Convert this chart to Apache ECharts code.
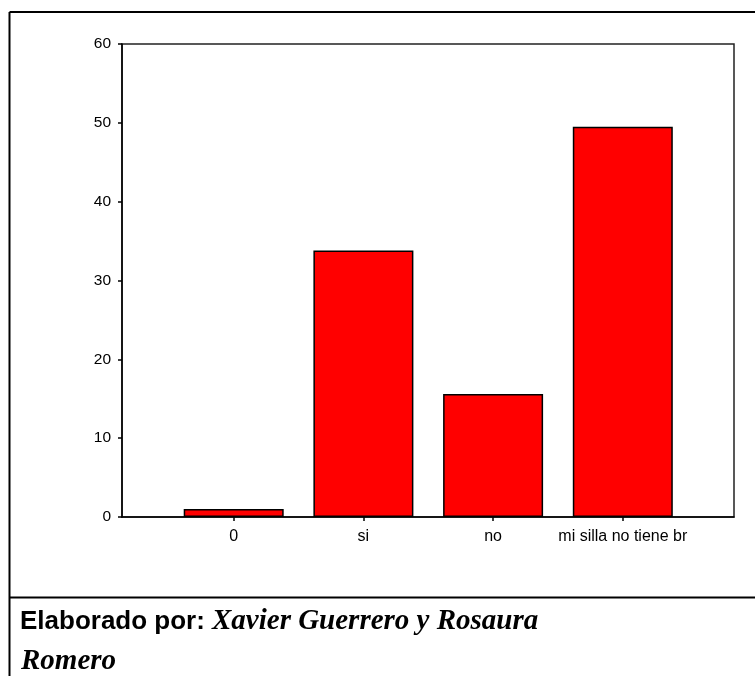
<!DOCTYPE html>
<html><head><meta charset="utf-8">
<script src="https://cdn.jsdelivr.net/npm/echarts@6/dist/echarts.min.js"></script>
<style>html,body{margin:0;padding:0;background:#fff}#c{width:755px;height:676px}</style>
</head><body><div id="c"></div>
<script>
var categories = ['0', 'si', 'no', 'mi silla no tiene br'];
var values = [1.0, 33.8, 15.6, 49.5];
var yTicks = [0, 10, 20, 30, 40, 50, 60];

var chart = echarts.init(document.getElementById('c'), null, {renderer: 'canvas'});
var FONT = 'Liberation Sans, Arial, sans-serif';
chart.setOption({
  animation: false,
  backgroundColor: '#fff',
  grid: [
    {left: 122, top: 44, width: 612, height: 473, show: true, borderColor: '#222', borderWidth: 1.5, backgroundColor: 'transparent'},
    {left: 168.85, top: 44, width: 518.8, height: 473}
  ],
  xAxis: [
    {gridIndex: 0, type: 'value', min: 0, max: 1, axisLine: {show: true, onZero: false, lineStyle: {color: '#000', width: 1.5}}, axisTick: {show: false}, axisLabel: {show: false}, splitLine: {show: false}},
    {gridIndex: 1, type: 'category', data: categories, axisLine: {show: false}, axisTick: {show: true, alignWithLabel: true, length: 4, lineStyle: {color: '#000', width: 1.5}}, axisLabel: {color: '#000', fontFamily: FONT, fontSize: 16, margin: 12, interval: 0}, splitLine: {show: false}}
  ],
  yAxis: [
    {gridIndex: 0, type: 'value', min: yTicks[0], max: yTicks[yTicks.length - 1], interval: 10, axisLine: {show: true, lineStyle: {color: '#000', width: 1.5}}, axisTick: {show: true, length: 4, lineStyle: {color: '#000', width: 1.5}}, axisLabel: {color: '#000', fontFamily: FONT, fontSize: 15.5, margin: 11}, splitLine: {show: false}},
    {gridIndex: 1, type: 'value', min: yTicks[0], max: yTicks[yTicks.length - 1], interval: 10, show: false}
  ],
  series: [{
    type: 'bar', xAxisIndex: 1, yAxisIndex: 1, data: values, barWidth: 100,
    itemStyle: {color: '#ff0000', borderColor: '#000', borderWidth: 1.5}
  }],
  graphic: [
    {type: 'line', shape: {x1: 9.5, y1: 12, x2: 9.5, y2: 676}, style: {stroke: '#000', lineWidth: 2}},
    {type: 'line', shape: {x1: 9.5, y1: 12, x2: 755, y2: 12}, style: {stroke: '#000', lineWidth: 2}},
    {type: 'line', shape: {x1: 9.5, y1: 597.5, x2: 755, y2: 597.5}, style: {stroke: '#000', lineWidth: 2}},
    {type: 'text', left: 20, top: 609, style: {text: 'Elaborado por:', font: 'bold 26px Liberation Sans, Arial, sans-serif', fill: '#000'}},
    {type: 'text', left: 212, top: 607, style: {text: 'Xavier Guerrero y Rosaura', font: 'italic bold 29px Liberation Serif, serif', fill: '#000'}},
    {type: 'text', left: 21, top: 647, style: {text: 'Romero', font: 'italic bold 29px Liberation Serif, serif', fill: '#000'}}
  ]
});
</script></body></html>
